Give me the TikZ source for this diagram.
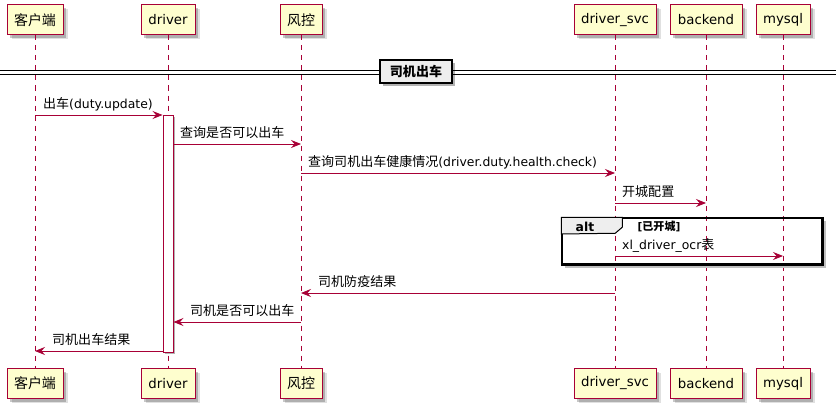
\documentclass[tikz,border=0pt]{standalone}
\usepackage{fontspec}
\setmainfont{DejaVu Sans}
\newfontfamily\cjk[Scale=1.05]{Noto Sans CJK SC}
\usetikzlibrary{arrows.meta,shadows}
\definecolor{umlred}{HTML}{A80036}
\definecolor{umlfill}{HTML}{FEFECE}
\definecolor{grpfill}{HTML}{EEEEEE}
\begin{document}
\begin{tikzpicture}[x=1pt,y=-1pt,
  part/.style={draw=umlred,fill=umlfill,line width=1pt,minimum height=30pt,inner sep=0pt,
    font=\fontsize{13.3}{15}\selectfont,
    drop shadow={shadow xshift=4.5pt,shadow yshift=-4.5pt,opacity=0.12,fill=black},
    drop shadow={shadow xshift=3pt,shadow yshift=-3pt,opacity=0.22,fill=black}},
  lifeline/.style={draw=umlred,line width=0.8pt,dash pattern=on 5pt off 5pt},
  msg/.style={draw=umlred,line width=0.9pt,-{Stealth[length=10pt,width=8pt,inset=3.5pt]}},
  lbl/.style={anchor=base west,inner sep=0pt,font=\fontsize{12.4}{14}\selectfont},
  actbox/.style={draw=umlred,fill=white,line width=0.9pt,minimum width=10pt,inner sep=0pt,
    drop shadow={shadow xshift=2pt,shadow yshift=-2pt,opacity=0.3,fill=black}},
  sepbox/.style={draw=black,fill=grpfill,line width=1.6pt,minimum width=72pt,minimum height=23pt,inner sep=0pt,
    font=\fontsize{12.4}{14}\selectfont\bfseries,
    drop shadow={shadow xshift=3pt,shadow yshift=-3pt,opacity=0.3,fill=black}},
  altframe/.style={draw=black,line width=1.5pt,minimum width=260pt,minimum height=46pt,inner sep=0pt},
]
\useasboundingbox (0,0) rectangle (838,412);

% participants (top)
\node[part,minimum width=56pt] (pA) at (35,20)  {\cjk 客户端};
\node[part,minimum width=54pt] (pB) at (168,20) {driver};
\node[part,minimum width=42pt] (pC) at (301,20) {\cjk 风控};
\node[part,minimum width=82pt] (pD) at (615,20) {driver\_svc};
\node[part,minimum width=72pt] (pE) at (706,20) {backend};
\node[part,minimum width=54pt] (pF) at (783,20) {mysql};
% participants (bottom)
\node[part,minimum width=56pt] (qA) at (35,383.5)  {\cjk 客户端};
\node[part,minimum width=54pt] (qB) at (168,383.5) {driver};
\node[part,minimum width=42pt] (qC) at (301,383.5) {\cjk 风控};
\node[part,minimum width=82pt] (qD) at (615,383.5) {driver\_svc};
\node[part,minimum width=72pt] (qE) at (706,383.5) {backend};
\node[part,minimum width=54pt] (qF) at (783,383.5) {mysql};

% lifelines
\foreach \p/\q in {pA/qA,pB/qB,pC/qC,pD/qD,pE/qE,pF/qF}
  \draw[lifeline] (\p.south) -- (\q.north);

% separator
\coordinate (sepL) at (0,72.5);
\coordinate (sepR) at (836,72.5);
\draw[line width=0.9pt] ([yshift=1.8pt]sepL) -- ([yshift=1.8pt]sepR);
\draw[line width=0.9pt] ([yshift=-1.8pt]sepL) -- ([yshift=-1.8pt]sepR);
\node[sepbox] (sep) at (416,71.5) {\cjk\bfseries 司机出车};

% alt frame
\draw[black!25,line width=3pt] (565,266.5) -- (824.5,266.5) -- (824.5,221);
\node[altframe] (alt) at (692,241) {};
\filldraw[fill=grpfill,draw=black,line width=1pt] (alt.north west) -- ++(61,0) -- ++(0,10) -- ++(-7,6) -- (alt.north west |- 0,234) -- cycle;
\draw[line width=1.5pt] (alt.north west) rectangle (alt.south east);
\node[font=\fontsize{12.4}{14}\selectfont\bfseries,inner sep=0pt] (altlbl) at (585,227) {alt};
\node[font=\fontsize{10.5}{12}\selectfont\bfseries,inner sep=0pt] (cond) at (659,226) {[{\cjk\bfseries 已开城}]};

% activation
\node[actbox,minimum height=237pt] (act) at (168,233.5) {};

% messages
\draw[msg] (pA |- 0,115) -- (act.west |- 0,115);
\node[lbl] (l1) at (43,108) {{\cjk 出车}(duty.update)};

\draw[msg] (act.east |- 0,144) -- (pC |- 0,144);
\node[lbl] (l2) at (180,137) {\cjk 查询是否可以出车};

\draw[msg] (pC |- 0,173) -- (pD |- 0,173);
\node[lbl] (l3) at (308,166) {{\cjk 查询司机出车健康情况}(driver.duty.health.check)};

\draw[msg] (pD |- 0,203) -- (pE |- 0,203);
\node[lbl] (l4) at (622,196) {\cjk 开城配置};

\draw[msg] (pD |- 0,256) -- (pF |- 0,256);
\node[lbl] (l5) at (622,249) {xl\_driver\_ocr{\cjk 表}};

\draw[msg] (pD |- 0,293) -- (pC |- 0,293);
\node[lbl] (l6) at (318,286) {\cjk 司机防疫结果};

\draw[msg] (pC |- 0,322) -- (act.east |- 0,322);
\node[lbl] (l7) at (190,315) {\cjk 司机是否可以出车};

\draw[msg] (act.west |- 0,351) -- (pA |- 0,351);
\node[lbl] (l8) at (52,344) {\cjk 司机出车结果};
\end{tikzpicture}
\end{document}
